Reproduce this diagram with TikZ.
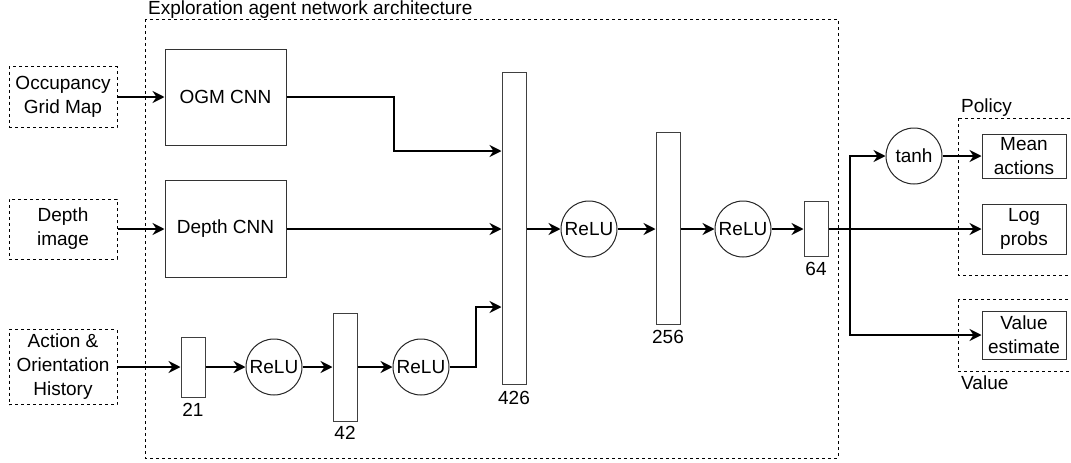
\documentclass[tikz,border=0pt]{standalone}
\usepackage{fontspec}
\setmainfont{Liberation Sans}
\usetikzlibrary{arrows.meta}
\begin{document}
\begin{tikzpicture}[x=1pt,y=-1pt,
  font=\fontsize{19}{24}\selectfont,
  blk/.style={draw=black!80, line width=1pt, fill=white, inner sep=0pt, align=center},
  dbox/.style={draw=black, line width=1pt, dash pattern=on 3pt off 3pt},
  bar/.style={draw=black!75, line width=1pt, fill=white, inner sep=0pt, minimum width=24pt},
  circ/.style={circle, draw=black!85, line width=1pt, fill=white, inner sep=0pt, minimum size=56pt},
  arr/.style={line width=2.5pt, -{Stealth[length=12pt,width=12pt,inset=4pt]}},
  lbl/.style={inner sep=0pt}]
\useasboundingbox (0,0) rectangle (1071,463);
\clip (0,0) rectangle (1071,463);
% containers
\draw[dbox] (145,19) rectangle (838,458);
\draw[dbox] (958,118) rectangle (1085,275);
\draw[dbox] (958,299) rectangle (1085,371);
\node[lbl, anchor=west] (title) at (148,9.5) {Exploration agent network architecture};
\node[lbl, anchor=west] (pol) at (961,108) {Policy};
\node[lbl, anchor=west] (val) at (961,383) {Value};
% inputs
\node[dbox, inner sep=0pt, align=center, minimum width=108pt, minimum height=61pt] (occ) at (63,97) {Occupancy\\Grid Map};
\node[dbox, inner sep=0pt, align=center, minimum width=108pt, minimum height=60pt] (dep) at (63,229) {Depth\\image};
\node[dbox, inner sep=0pt, align=center, minimum width=108pt, minimum height=75pt] (act) at (63,367) {Action \&\\Orientation\\History};
% CNNs
\node[blk, minimum width=121pt, minimum height=96pt] (ogm) at (225.5,97) {OGM CNN};
\node[blk, minimum width=121pt, minimum height=97pt] (dcnn) at (225.5,229) {Depth CNN};
% bars
\node[bar, minimum height=60pt] (b21) at (193,367) {};
\node[bar, minimum height=108pt] (b42) at (345,367) {};
\node[bar, minimum height=312pt] (b426) at (514,228) {};
\node[bar, minimum height=192pt] (b256) at (668,228) {};
\node[bar, minimum height=55pt] (b64) at (816,229) {};
\node[lbl] (l21) at (193,410) {21};
\node[lbl] (l42) at (345,433) {42};
\node[lbl] (l426) at (514,398) {426};
\node[lbl] (l256) at (668,337) {256};
\node[lbl] (l64) at (816,269) {64};
% activations
\node[circ] (r1) at (274,367) {ReLU};
\node[circ] (r2) at (421,367) {ReLU};
\node[circ] (r3) at (589,229) {ReLU};
\node[circ] (r4) at (743,229) {ReLU};
\node[circ] (tanh) at (914,156) {tanh};
% outputs
\node[blk, minimum width=84pt, minimum height=44pt] (mean) at (1024,156) {Mean\\actions};
\node[blk, minimum width=84pt, minimum height=50pt] (logp) at (1024,229) {Log\\probs};
\node[blk, minimum width=84pt, minimum height=48pt] (vest) at (1024,335) {Value\\estimate};
% connectors
\draw[arr] (occ.east) -- (ogm.west);
\draw[arr] (dep.east) -- (dcnn.west);
\draw[arr] (act.east) -- (b21.west);
\draw[arr] (ogm.east) -- (394,97) |- (b426.west |- 0,151);
\draw[arr] (dcnn.east) -- (b426.west |- dcnn.east);
\draw[arr] (b21.east) -- (r1.west);
\draw[arr] (r1.east) -- (b42.west);
\draw[arr] (b42.east) -- (r2.west);
\draw[arr] (r2.east) -- (476,367) |- (b426.west |- 0,307);
\draw[arr] (b426.east |- r3.west) -- (r3.west);
\draw[arr] (r3.east) -- (b256.west |- r3.east);
\draw[arr] (b256.east |- r4.west) -- (r4.west);
\draw[arr] (r4.east) -- (b64.west);
\coordinate (j) at (850,229);
\draw[arr] (b64.east) -- (logp.west);
\draw[arr] (j) |- (tanh.west);
\draw[arr] (j) |- (vest.west);
\draw[arr] (tanh.east) -- (mean.west);
\end{tikzpicture}
\end{document}
